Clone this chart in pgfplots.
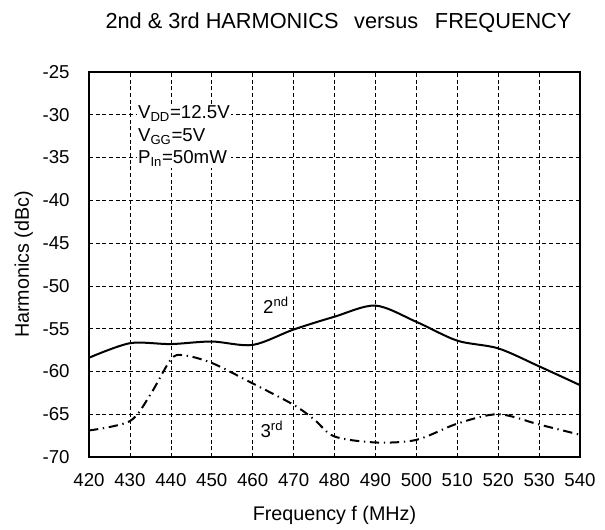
\documentclass[border=0pt]{standalone}
\usepackage{pgfplots}
\pgfplotsset{compat=1.18}
\usepackage{fontspec}
\setmainfont{Liberation Sans}

\begin{document}
\begin{tikzpicture}[x=0.75pt,y=0.75pt]
% fix the page to the reference size (605 x 529 px, axis box 491 x 385 px)
\useasboundingbox (-89,-72) rectangle (516,457);
\begin{axis}[
  scale only axis,
  width=368.25pt, height=288.75pt,
  xmin=420, xmax=540, ymin=-70, ymax=-25,
  xtick={420,430,...,540},
  ytick={-70,-65,...,-25},
  grid=major,
  major grid style={black, densely dashed, line width=0.5pt},
  axis line style={black, line width=1.6pt},
  tick style={draw=none},
  tick label style={font=\fontsize{14}{16}\selectfont},
  yticklabel style={xshift=-11pt},
  xticklabel style={yshift=-9pt},
  /pgf/number format/assume math mode=true,
  xlabel={Frequency f (MHz)},
  ylabel={Harmonics (dBc)},
  label style={font=\fontsize{14.8}{17}\selectfont},
  xlabel style={at={(rel axis cs:0.5,0)}, anchor=center, yshift=-43.5pt},
  ylabel style={at={(rel axis cs:0,0.5)}, anchor=center, yshift=49pt},
  title={2nd \& 3rd HARMONICS\hspace{0.72em}versus\hspace{0.77em}FREQUENCY},
  title style={font=\fontsize{16.3}{19}\selectfont, at={(rel axis cs:0.5,1)},
    anchor=base, yshift=27pt, xshift=3pt},
  clip=false,
]
\addplot[black, line width=1.5pt, smooth, tension=0.5] coordinates {
  (420,-58.4) (430,-56.7) (440,-56.8) (450,-56.5) (460,-56.9) (470,-55.1)
  (480,-53.6) (490,-52.3) (500,-54.2) (510,-56.4) (520,-57.3) (530,-59.4) (540,-61.6)
};
\addplot[black, line width=1.5pt, smooth, tension=0.5,
  dash pattern=on 7pt off 3.5pt on 1pt off 3.5pt] coordinates {
  (420,-66.9) (430,-65.8) (435,-62.7) (440,-58.6) (443,-58.1) (450,-59.0)
  (460,-61.4) (470,-63.9) (475,-65.6) (480,-67.6) (490,-68.3) (500,-68.0)
  (510,-66.1) (520,-65.0) (530,-66.2) (540,-67.4)
};
\node[font=\fontsize{14}{16}\selectfont] at (axis cs:465.7,-52.3) {2\textsuperscript{nd}};
\node[font=\fontsize{14}{16}\selectfont] at (axis cs:464.7,-66.8) {3\textsuperscript{rd}};
\node[font=\fontsize{14}{16.9}\selectfont, anchor=west, align=left, inner sep=1pt,
  fill=white] at (axis cs:431.6,-32.5)
  {V\textsubscript{DD}=12.5V\\V\textsubscript{GG}=5V\\P\textsubscript{In}=50mW};
\end{axis}
\end{tikzpicture}
\end{document}
